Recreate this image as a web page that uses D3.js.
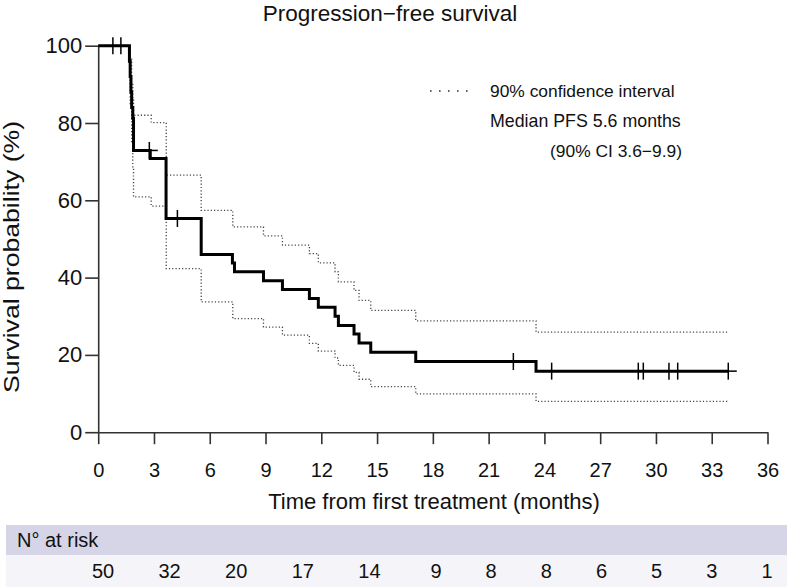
<!DOCTYPE html>
<html><head><meta charset="utf-8">
<script src="https://cdn.jsdelivr.net/npm/d3@7"></script>
<style>
html,body{margin:0;padding:0;background:#fff;}
svg{display:block;font-family:"Liberation Sans",Arial,Helvetica,sans-serif;}
</style></head>
<body>
<svg id="chart" width="787" height="587"></svg>
<script>
// ---- data ----
const kmTimes = [0, 1.68, 1.72, 1.76, 1.80, 1.86, 1.90, 2.80, 3.65, 5.54, 7.22, 7.33, 8.89, 9.91, 11.36, 11.84, 12.74, 12.92, 13.76, 14.03, 14.66, 17.08, 23.55, 33.89];
const kmSurv  = [100, 96, 92, 88, 84, 81.2, 72.9, 70.8, 55.3, 46.0, 43.8, 41.5, 39.2, 36.9, 34.6, 32.3, 30.0, 27.6, 25.4, 23.1, 20.7, 18.3, 15.8, 15.8];
const ciTimes = [0, 1.72, 1.80, 1.86, 1.90, 2.85, 3.66, 5.54, 7.24, 8.89, 9.91, 11.36, 11.84, 12.74, 12.92, 13.76, 14.03, 14.66, 17.08, 23.55, 33.9];
const ciUpper = [100, 97, 90, 86, 82.0, 80.1, 66.5, 57.4, 53.1, 50.8, 48.4, 46.2, 43.8, 41.5, 38.9, 36.7, 34.1, 31.5, 28.8, 25.9, 25.9];
const ciLower = [100, 85, 75, 68, 60.9, 58.5, 42.3, 33.7, 29.4, 27.2, 25.1, 23.0, 21.0, 19.2, 17.3, 15.5, 13.7, 11.8, 9.9, 8.0, 8.0];
const censorTimes = [0.79, 1.22, 2.75, 4.26, 22.33, 24.39, 29.05, 29.32, 30.70, 31.17, 33.89];
const censorSurv  = [100, 100, 72.9, 55.3, 18.3, 15.8, 15.8, 15.8, 15.8, 15.8, 15.8];
const xTicks = [0, 3, 6, 9, 12, 15, 18, 21, 24, 27, 30, 33, 36];
const yTicks = [0, 20, 40, 60, 80, 100];
const riskCounts = [50, 32, 20, 17, 14, 9, 8, 8, 6, 5, 3, 1];
const titleText = "Progression\u2212free survival";
const xTitle = "Time from first treatment (months)";
const yTitle = "Survival probability (%)";
const legendLines = ["90% confidence interval", "Median PFS 5.6 months", "(90% CI 3.6\u22129.9)"];
const riskLabel = "N\u00b0 at risk";

// ---- layout ----
const svg = d3.select("#chart");
const x = d3.scaleLinear().domain([0, 36]).range([98.2, 767.5]);
const y = d3.scaleLinear().domain([0, 100]).range([432.2, 45.7]);
const axisColor = "#333";

// title
svg.append("text").attr("x", 390).attr("y", 21).attr("text-anchor", "middle")
  .attr("font-size", 22.5).attr("fill", "#111").text(titleText);

// x axis
const gx = svg.append("g").attr("transform", `translate(0,${y(0)})`)
  .call(d3.axisBottom(x).tickValues(xTicks).tickSize(12).tickSizeOuter(0).tickPadding(19));
gx.select(".domain").attr("stroke", axisColor).attr("stroke-width", 1.6);
gx.selectAll(".tick line").attr("stroke", axisColor).attr("stroke-width", 1.6);
gx.selectAll(".tick text").attr("font-size", 20).attr("fill", "#111")
  .attr("font-family", "Liberation Sans, Arial, sans-serif");

// y axis
const gy = svg.append("g").attr("transform", `translate(${x(0)},0)`)
  .call(d3.axisLeft(y).tickValues(yTicks).tickSize(13).tickSizeOuter(0).tickPadding(3));
gy.select(".domain").attr("stroke", axisColor).attr("stroke-width", 1.6);
gy.selectAll(".tick line").attr("stroke", axisColor).attr("stroke-width", 1.6);
gy.selectAll(".tick text").attr("font-size", 22).attr("fill", "#111")
  .attr("font-family", "Liberation Sans, Arial, sans-serif");

// axis titles
svg.append("text").attr("x", 434).attr("y", 509).attr("text-anchor", "middle")
  .attr("font-size", 22).attr("fill", "#111").text(xTitle);
svg.append("text").attr("transform", "translate(19,257) rotate(-90)").attr("text-anchor", "middle")
  .attr("font-size", 22).attr("textLength", 272).attr("lengthAdjust", "spacingAndGlyphs")
  .attr("fill", "#111").text(yTitle);

// CI lines
const ciLine = (vals) => d3.line().curve(d3.curveStepAfter)
  .x((d, i) => x(ciTimes[i])).y((d, i) => y(vals[i]));
[ciUpper, ciLower].forEach(vals => {
  svg.append("path").datum(vals).attr("d", ciLine(vals))
    .attr("fill", "none").attr("stroke", "#444").attr("stroke-width", 1.3)
    .attr("stroke-dasharray", "1.2 2.1");
});

// KM curve
const km = d3.line().curve(d3.curveStepAfter)
  .x((d, i) => x(kmTimes[i])).y((d, i) => y(kmSurv[i]));
svg.append("path").datum(kmSurv).attr("d", km)
  .attr("fill", "none").attr("stroke", "#000").attr("stroke-width", 3)
  .attr("stroke-linejoin", "miter");

// censor marks (+)
const cs = 8.5;
const cg = svg.append("g").attr("stroke", "#000").attr("stroke-width", 1.5);
censorTimes.forEach((t, i) => {
  const cx = x(t), cy = y(censorSurv[i]);
  cg.append("line").attr("x1", cx).attr("x2", cx).attr("y1", cy - cs).attr("y2", cy + cs);
  cg.append("line").attr("x1", cx - cs).attr("x2", cx + cs).attr("y1", cy).attr("y2", cy);
});

// legend
svg.append("line").attr("x1", 430).attr("x2", 470).attr("y1", 91).attr("y2", 91)
  .attr("stroke", "#333").attr("stroke-width", 1.6).attr("stroke-dasharray", "1.6 7.4");
svg.append("text").attr("x", 490).attr("y", 97).attr("font-size", 17.4).attr("fill", "#111").text(legendLines[0]);
svg.append("text").attr("x", 490).attr("y", 127).attr("font-size", 17.8).attr("fill", "#111").text(legendLines[1]);
svg.append("text").attr("x", 682).attr("y", 157).attr("text-anchor", "end").attr("font-size", 17.4).attr("fill", "#111").text(legendLines[2]);

// at-risk table
svg.append("rect").attr("x", 6).attr("y", 525).attr("width", 781).attr("height", 30).attr("fill", "#d6d4e7");
svg.append("rect").attr("x", 6).attr("y", 555).attr("width", 781).attr("height", 32).attr("fill", "#f5f5f9");
svg.append("text").attr("x", 17).attr("y", 547).attr("font-size", 20).attr("fill", "#111").text(riskLabel);
const riskCol = d3.scaleLinear().domain([0, 5, 11]).range([103, 436, 767]);
svg.append("g").selectAll("text").data(riskCounts).join("text")
  .attr("x", (d, i) => riskCol(i)).attr("y", 578).attr("text-anchor", "middle")
  .attr("font-size", 20).attr("fill", "#111").text(d => d);
</script>
</body></html>
